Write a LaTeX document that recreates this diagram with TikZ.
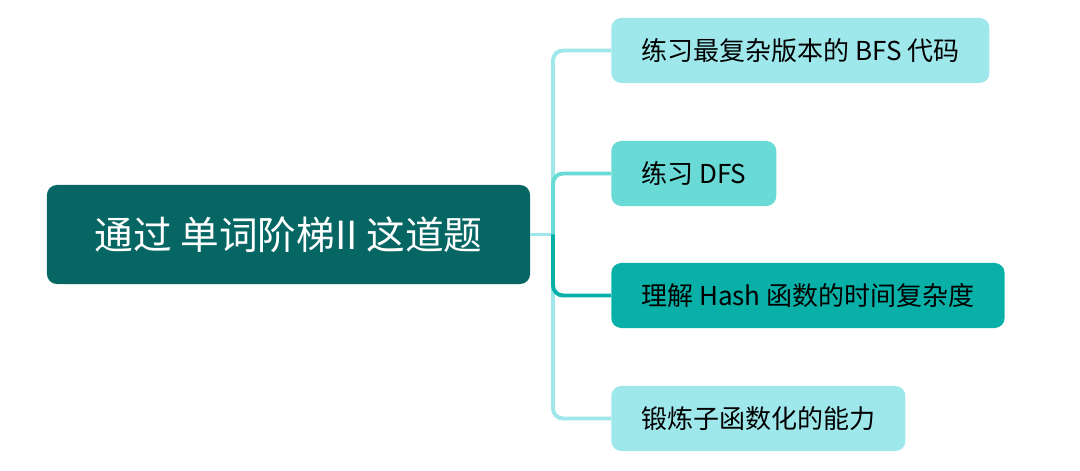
\documentclass[tikz,border=0pt]{standalone}
\usepackage{fontspec}
\setmainfont{Noto Sans CJK SC}
\usetikzlibrary{positioning}
\definecolor{rootteal}{HTML}{066663}
\definecolor{paleteal}{HTML}{9EE8EC}
\definecolor{midteal}{HTML}{6ADAD6}
\definecolor{deepteal}{HTML}{08B0A8}

\begin{document}
\begin{tikzpicture}[x=0.025cm, y=-0.025cm,
    root/.style={fill=rootteal, rounded corners=0.25cm, text=white,
      minimum width=12.075cm, minimum height=2.475cm,
      font=\fontsize{27.5}{32}\selectfont},
    topic/.style={rounded corners=0.25cm, anchor=west, text=black,
      inner xsep=0.75cm, minimum height=1.625cm,
      font=\fontsize{18.5}{22}\selectfont},
    link/.style={line width=2.8pt, rounded corners=0.25cm}]
    \useasboundingbox (0,0) rectangle (1080,471);

    \node[root] (main) at (288.5,234.5) {通过 单词阶梯II 这道题};
    \node[topic, fill=paleteal] (bfs) at (611,50.5) {练习最复杂版本的 BFS 代码};
    \node[topic, fill=midteal] (dfs) at (611,173.5) {练习 DFS};
    \node[topic, fill=deepteal] (hash) at (611,295.5) {理解 Hash 函数的时间复杂度};
    \node[topic, fill=paleteal] (func) at (611,418.5) {锻炼子函数化的能力};

    \coordinate (fork) at (553,234.5);
    \draw[link, paleteal] (main.east) -- (fork);
    \draw[link, paleteal] (bfs.west) -| (fork) |- (func.west);
    \draw[link, midteal] (fork) |- (dfs.west);
    \draw[link, deepteal] (fork) |- (hash.west);
  \end{tikzpicture}
\end{document}
